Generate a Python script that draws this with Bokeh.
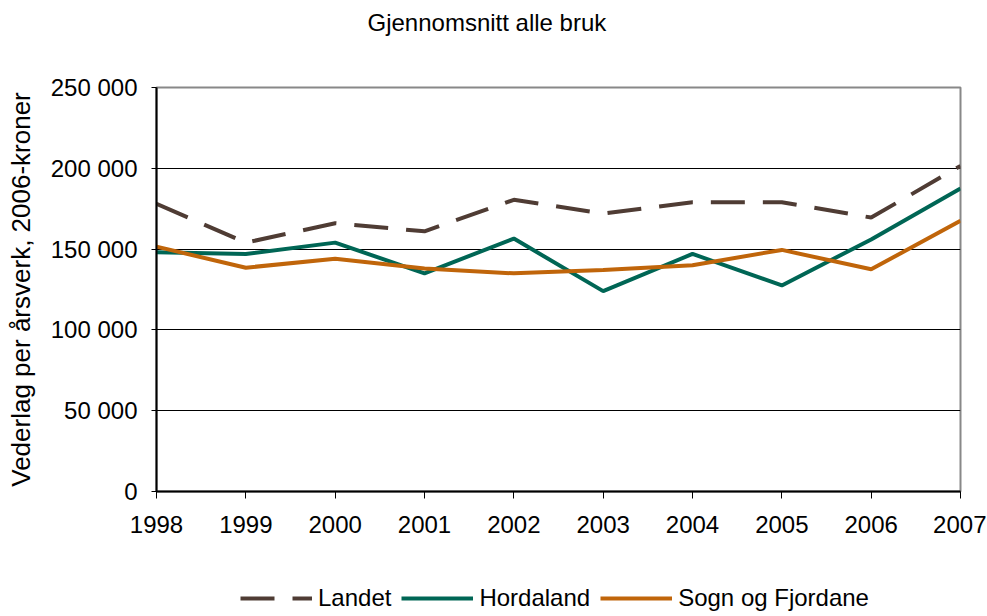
from bokeh.plotting import figure
from bokeh.layouts import column
from bokeh.models import FixedTicker, Legend, LegendItem, ColumnDataSource, Title
from bokeh.embed import file_html
from bokeh.resources import INLINE

years = [1998, 1999, 2000, 2001, 2002, 2003, 2004, 2005, 2006, 2007]
landet = [178000, 154000, 166000, 161000, 180500, 172000, 179000, 179000, 169500, 201500]
hordaland = [148000, 147000, 154000, 135000, 156500, 124000, 147000, 127500, 156000, 187500]
sogn = [151500, 138500, 144000, 138000, 135000, 137000, 140000, 149500, 137500, 167500]

y_ticks = [0, 50000, 100000, 150000, 200000, 250000]
y_tick_labels = ["0", "50 000", "100 000", "150 000", "200 000", "250 000"]
series_names = ["Landet", "Hordaland", "Sogn og Fjordane"]
series_colors = ["#4f3c34", "#006655", "#c0650a"]
series_dash = ["34 18", "solid", "solid"]
title_text = "Gjennomsnitt alle bruk"
y_label = "Vederlag per årsverk, 2006-kroner"

FONT = "Liberation Sans"
COLS = ["l", "h", "s"]

p = figure(frame_width=804, frame_height=404, output_backend="svg", toolbar_location=None,
           x_range=(1998, 2007), y_range=(0, 250000), title=None,
           min_border_left=156, min_border_right=26, min_border_top=87, min_border_bottom=70)
p.background_fill_color = "white"
p.border_fill_color = "white"
p.outline_line_color = "#888888"
p.outline_line_width = 2

src = ColumnDataSource(dict(x=years, l=landet, h=hordaland, s=sogn))
for i, col in enumerate(COLS):
    p.line("x", col, source=src, line_color=series_colors[i], line_width=4, line_dash=series_dash[i])

# spacer between frame and title, then the title itself (outermost)
p.add_layout(Title(text=" ", text_font=FONT, text_font_size="10px", standoff=30), "above")
p.add_layout(Title(text=title_text, align="left", vertical_align="top", offset=211, standoff=14,
                   text_font=FONT, text_font_size="24px", text_font_style="normal",
                   text_color="black"), "above")

# grid
p.xgrid.visible = False
p.ygrid.ticker = FixedTicker(ticks=y_ticks[1:-1])
p.ygrid.grid_line_color = "black"
p.ygrid.grid_line_width = 1

# y axis
p.yaxis.ticker = FixedTicker(ticks=y_ticks)
p.yaxis.major_label_overrides = {t: l for t, l in zip(y_ticks, y_tick_labels)}
p.yaxis.minor_tick_line_color = None
p.yaxis.major_tick_in = 0
p.yaxis.major_tick_out = 5
p.yaxis.major_label_standoff = 14
p.yaxis.major_label_text_font = FONT
p.yaxis.major_label_text_font_size = "24px"
p.yaxis.major_label_text_color = "black"
p.yaxis.axis_line_color = "black"
p.yaxis.axis_line_width = 2
p.yaxis.major_tick_line_color = "black"
p.yaxis.axis_label = y_label
p.yaxis.axis_label_text_font = FONT
p.yaxis.axis_label_text_font_size = "26px"
p.yaxis.axis_label_text_font_style = "normal"
p.yaxis.axis_label_text_color = "black"
p.yaxis.axis_label_standoff = 12

# x axis
p.xaxis.ticker = FixedTicker(ticks=years)
p.xaxis.minor_tick_line_color = None
p.xaxis.major_tick_in = 0
p.xaxis.major_tick_out = 7
p.xaxis.major_label_standoff = 17
p.xaxis.major_label_text_font = FONT
p.xaxis.major_label_text_font_size = "24px"
p.xaxis.major_label_text_color = "black"
p.xaxis.axis_line_color = "black"
p.xaxis.axis_line_width = 2
p.xaxis.major_tick_line_color = "black"

# legend strip below the chart (series drawn out of view; only the legend shows)
leg = figure(width=986, height=53, output_backend="svg", toolbar_location=None,
             x_range=(0, 1), y_range=(0, 1),
             x_axis_location=None, y_axis_location=None, min_border=0)
leg.grid.visible = False
leg.outline_line_color = None
leg.background_fill_color = "white"
leg.border_fill_color = "white"
items = []
for i, name in enumerate(series_names):
    r = leg.line("x", COLS[i], source=src, line_color=series_colors[i], line_width=4,
                 line_dash=series_dash[i])
    items.append(LegendItem(label=name, renderers=[r]))
legend = Legend(items=items, location=(84, 2), orientation="horizontal",
                glyph_width=72, glyph_height=24, label_height=24, label_standoff=6, spacing=10,
                padding=0, margin=0, border_line_color=None, background_fill_alpha=0,
                label_text_font=FONT, label_text_font_size="24px", label_text_color="black")
leg.add_layout(legend)

open("out.html", "w").write(file_html(column(p, leg), INLINE))
